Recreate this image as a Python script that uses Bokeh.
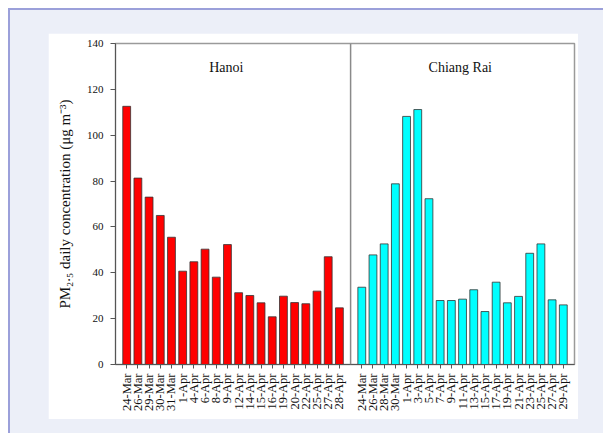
import math
from bokeh.plotting import figure
from bokeh.models import FixedTicker, Spacer, Span
from bokeh.layouts import column, row
from bokeh.embed import file_html
from bokeh.resources import INLINE
from bokeh.core.properties import value

# ---- data ----
hanoi_dates = ["24-Mar", "26-Mar", "29-Mar", "30-Mar", "31-Mar", "1-Apr", "4-Apr", "6-Apr",
               "8-Apr", "9-Apr", "12-Apr", "14-Apr", "15-Apr", "16-Apr", "19-Apr", "20-Apr",
               "22-Apr", "25-Apr", "27-Apr", "28-Apr"]
hanoi_pm = [112.6, 81.3, 73.0, 65.0, 55.5, 40.7, 44.8, 50.3, 38.1, 52.3,
            31.3, 30.1, 26.9, 20.8, 29.8, 27.0, 26.5, 32.0, 47.0, 24.7]
cr_dates = ["24-Mar", "26-Mar", "28-Mar", "30-Mar", "1-Apr", "3-Apr", "5-Apr", "7-Apr",
            "9-Apr", "11-Apr", "13-Apr", "15-Apr", "17-Apr", "19-Apr", "21-Apr", "23-Apr",
            "25-Apr", "27-Apr", "29-Apr"]
cr_pm = [33.7, 47.8, 52.6, 78.8, 108.2, 111.2, 72.3, 27.9, 27.9, 28.5,
         32.6, 23.1, 35.9, 26.9, 29.7, 48.5, 52.6, 28.2, 26.0]
y_ticks = [0, 20, 40, 60, 80, 100, 120, 140]
panel_titles = ["Hanoi", "Chiang Rai"]

SERIF = "Liberation Serif"

hanoi_x = list(range(1, len(hanoi_dates) + 1))
gap = len(hanoi_dates) + 1
cr_x = list(range(gap + 1, gap + 1 + len(cr_dates)))
x_end = cr_x[-1] + 1

p = figure(width=530, height=386, x_range=(0, x_end), y_range=(y_ticks[0], y_ticks[-1]),
           output_backend="svg", toolbar_location=None,
           min_border_left=67, min_border_right=4, min_border_top=10, min_border_bottom=55,
           background_fill_color="white", border_fill_color="white")
p.outline_line_color = "#9a9a9a"
p.outline_line_width = 1.5
p.grid.visible = False

p.vbar(x=hanoi_x, top=hanoi_pm, width=0.7, bottom=0, fill_color="#ff0000",
       line_color="#333333", line_width=0.8)
p.vbar(x=cr_x, top=cr_pm, width=0.7, bottom=0, fill_color="#00ffff",
       line_color="#333333", line_width=0.8)

p.add_layout(Span(location=gap, dimension="height", line_color="#8a8a8a", line_width=1.5))

h_center = (hanoi_x[0] + hanoi_x[-1]) / 2 - 0.6
c_center = (cr_x[0] + cr_x[-1]) / 2 - 0.2
p.text(x=[h_center, c_center], y=[129.5, 129.5], text=panel_titles,
       text_font=value(SERIF), text_font_size="14px", text_color="#111111",
       text_align="center", text_baseline="middle")

# x axis
xa = p.xaxis[0]
xa.ticker = FixedTicker(ticks=hanoi_x + cr_x)
overrides = {}
for xv, d in zip(hanoi_x, hanoi_dates):
    overrides[xv] = d
for xv, d in zip(cr_x, cr_dates):
    overrides[xv] = d
xa.major_label_overrides = overrides
xa.major_label_orientation = math.pi / 2
xa.major_label_text_font = SERIF
xa.major_label_text_font_size = "12.5px"
xa.major_label_text_color = "#111111"
xa.major_label_standoff = 5
xa.major_tick_out = 4
xa.major_tick_in = 0
xa.minor_tick_out = 0
xa.minor_tick_in = 0
xa.axis_line_color = "#555555"
xa.major_tick_line_color = "#555555"

# y axis
ya = p.yaxis[0]
ya.ticker = FixedTicker(ticks=y_ticks)
ya.major_label_text_font = SERIF
ya.major_label_text_font_size = "11px"
ya.major_label_text_color = "#111111"
ya.major_label_standoff = 7
ya.major_tick_out = 5
ya.major_tick_in = 0
ya.minor_tick_out = 0
ya.minor_tick_in = 0
ya.axis_line_color = "#555555"
ya.major_tick_line_color = "#555555"
ya.axis_label = "PM\u2082.\u2085 daily concentration (\u03bcg m\u207b\u00b3)"
ya.axis_label_text_font = SERIF
ya.axis_label_text_font_size = "15px"
ya.axis_label_text_font_style = "normal"
ya.axis_label_text_color = "#111111"
ya.axis_label_standoff = 11

lav = column(
    Spacer(height=23),
    row(Spacer(width=38), p, Spacer(width=25)),
    Spacer(height=14),
    styles={"background-color": "#eceff8",
            "border-top": "2px solid #9ba0da",
            "border-left": "2px solid #9ba0da"},
)
page = column(Spacer(height=8), row(Spacer(width=8), lav))

open("out.html", "w").write(file_html(page, INLINE))
